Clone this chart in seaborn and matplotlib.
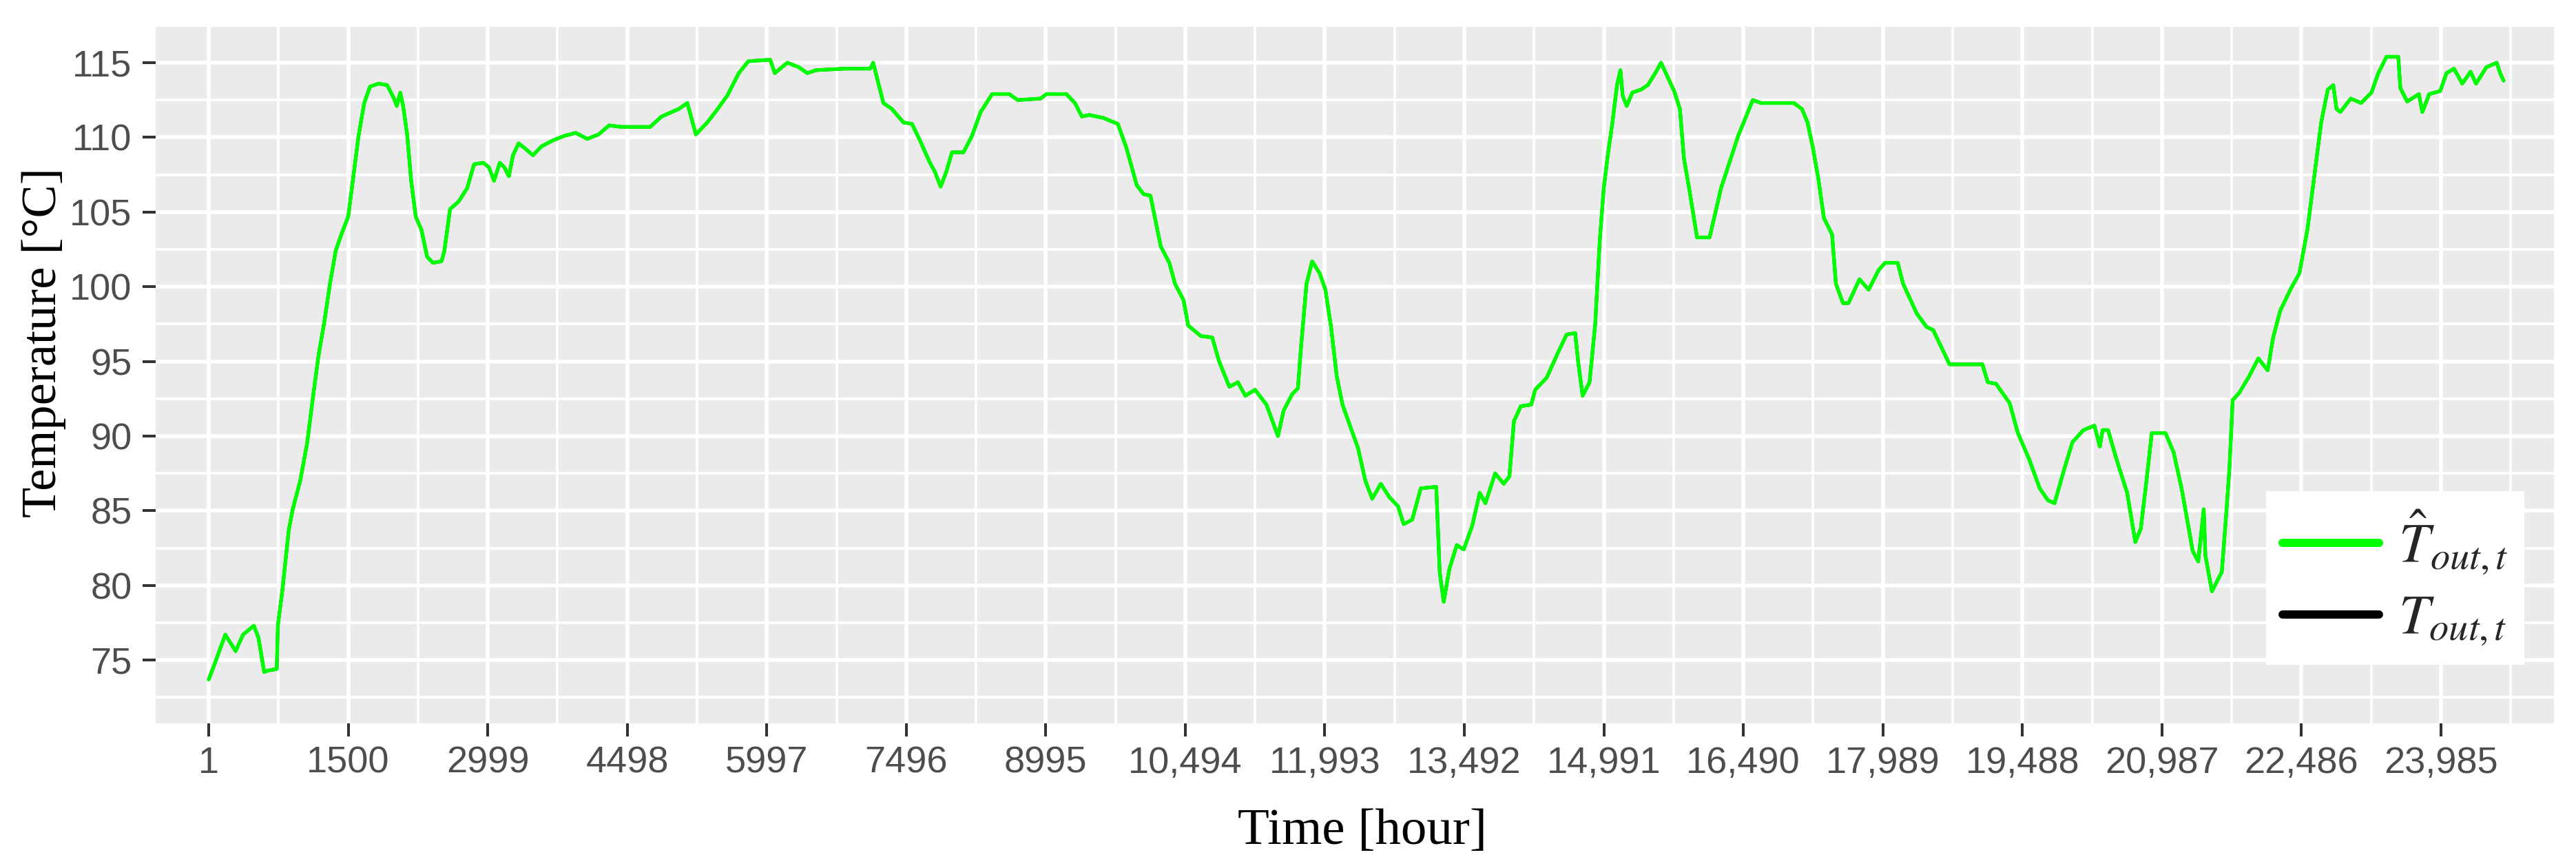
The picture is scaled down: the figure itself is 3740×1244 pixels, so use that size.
import matplotlib
matplotlib.use('Agg')
import matplotlib.pyplot as plt
import seaborn as sns
from matplotlib.ticker import FixedLocator

# hourly outlet temperature
hours = [1, 62, 179, 290, 370, 486, 535, 597, 640, 732, 744, 793, 861, 904, 984, 1058, 1119,
         1181, 1242, 1304, 1365, 1426, 1500, 1549, 1611, 1672, 1734, 1826, 1918, 1992, 2022,
         2059, 2090, 2133, 2176, 2225, 2287, 2348, 2410, 2502, 2533, 2594, 2686, 2778, 2852,
         2950, 3011, 3067, 3128, 3177, 3226, 3270, 3331, 3392, 3485, 3577, 3700, 3822, 3945,
         4068, 4191, 4302, 4437, 4744, 4867, 5051, 5143, 5235, 5358, 5469, 5573, 5696, 5800,
         6034, 6083, 6218, 6341, 6433, 6525, 6832, 7109, 7140,
         7250, 7342, 7465, 7557, 7650, 7742, 7803, 7865, 7926, 7987, 8110, 8202, 8295, 8418,
         8602, 8694, 8940, 9001, 9216, 9308, 9382, 9462, 9615, 9769, 9861, 9972, 10045, 10119,
         10168, 10230, 10322, 10383, 10475, 10525, 10660, 10783, 10857, 10967, 11059, 11139,
         11243, 11366, 11489, 11550, 11642, 11704, 11735, 11796, 11857, 11937, 11999, 12060,
         12121, 12183, 12257, 12349, 12429, 12502, 12594, 12687, 12779, 12840, 12932, 13024,
         13190, 13227, 13270, 13331, 13411, 13485, 13577, 13657, 13718, 13823, 13915, 13976,
         14025, 14099, 14210, 14253, 14376, 14499, 14591, 14683, 14714, 14763, 14837, 14898,
         14947, 14990, 15033, 15083, 15132, 15169, 15193, 15236, 15297, 15390, 15463, 15543,
         15605, 15746, 15808, 15851, 15912, 15992, 16127, 16250, 16434,
         16591, 16680, 17032, 17120, 17179, 17237, 17296, 17355, 17443, 17484, 17560, 17619,
         17737, 17836, 17942, 18012, 18148, 18206, 18265, 18353, 18459, 18529, 18705, 19058,
         19116, 19204, 19351, 19439, 19557, 19674, 19762, 19833, 19938, 20026, 20144, 20261,
         20320, 20350, 20408, 20496, 20613, 20701, 20760, 20819, 20878, 21025, 21113, 21201,
         21318, 21377, 21436, 21454, 21524, 21630, 21671, 21712, 21747, 21818, 21924, 22023,
         22123, 22182, 22258, 22375, 22464, 22552, 22640, 22698, 22769, 22828, 22863, 22904,
         23016, 23127, 23238, 23312, 23400, 23526, 23549, 23622, 23748, 23785, 23859, 23977,
         24044, 24125, 24214, 24303, 24362, 24473, 24584, 24621, 24658]

temp_pred = [73.7, 74.7, 76.7, 75.6, 76.7, 77.3, 76.5, 74.2, 74.3, 74.4, 77.3, 79.7, 83.7, 85.1,
             87.0, 89.5, 92.5, 95.4, 97.6, 100.2, 102.4, 103.5, 104.7, 107.1, 110.1, 112.3,
             113.4, 113.6, 113.5, 112.6, 112.1, 113.0, 112.1, 110.2, 107.1, 104.7, 103.8, 102.0,
             101.6, 101.7, 102.4, 105.2, 105.7, 106.6, 108.2, 108.3, 108.0, 107.1, 108.3, 108.0,
             107.4, 108.8, 109.6, 109.3, 108.8, 109.4, 109.8, 110.1, 110.3, 109.9, 110.2, 110.8,
             110.7, 110.7, 111.4, 111.9, 112.3, 110.2, 111.0, 111.9, 112.8, 114.3, 115.1, 115.2,
             114.3, 115.0, 114.7, 114.3, 114.5, 114.6, 114.6, 115.0,
             112.3, 111.9, 111.0, 110.9, 109.7, 108.4, 107.7, 106.7, 107.7, 109.0, 109.0, 110.1,
             111.7, 112.9, 112.9, 112.5, 112.6, 112.9, 112.9, 112.3, 111.4, 111.5, 111.3, 110.9,
             109.3, 106.8, 106.2, 106.1, 104.6, 102.7, 101.6, 100.2, 99.1, 97.4, 96.7, 96.6,
             95.0, 93.3, 93.6, 92.7, 93.1, 92.1, 90.0, 91.7, 92.8, 93.2, 95.8, 100.2, 101.7,
             100.9, 99.8, 97.3, 94.0, 92.1, 90.8, 89.2, 87.0, 85.8, 86.8, 85.9, 85.3, 84.1, 84.4,
             86.5, 86.6, 80.9, 78.9, 81.1, 82.7, 82.4, 84.0, 86.2, 85.5, 87.5, 86.8, 87.3, 91.0,
             92.0, 92.1, 93.1, 93.9, 95.6, 96.8, 96.9, 95.0, 92.7, 93.6, 97.5, 103.1, 106.6,
             108.8, 111.0, 113.5, 114.5, 112.8, 112.1, 113.0, 113.2, 113.5, 114.3, 115.0, 113.1,
             111.9, 108.6, 106.4, 103.3, 103.3, 106.6, 110.1,
             112.5, 112.3, 112.3, 111.9, 111.0, 109.3, 107.2, 104.6, 103.5, 100.2, 98.9, 98.9,
             100.5, 99.8, 101.1, 101.6, 101.6, 100.2, 99.4, 98.2, 97.3, 97.1, 94.8, 94.8, 93.6,
             93.5, 92.2, 90.2, 88.5, 86.5, 85.7, 85.5, 87.8, 89.6, 90.4, 90.7, 89.3, 90.4, 90.4,
             88.5, 86.2, 82.9, 83.8, 86.9, 90.2, 90.2, 88.9, 86.4, 82.3, 81.6, 85.1, 82.0, 79.6,
             80.9, 84.2, 87.8, 92.4, 92.9, 94.0, 95.2, 94.4, 96.6, 98.4, 99.9, 100.9, 103.9,
             108.2, 111.0, 113.2, 113.5, 111.9, 111.7, 112.6, 112.3, 113.0, 114.3, 115.4, 115.4,
             113.3, 112.4, 112.9, 111.7, 112.9, 113.1, 114.3, 114.6, 113.6, 114.4, 113.6, 114.7,
             115.0, 114.3, 113.8]

# the measured series sits under the prediction and is almost fully hidden
temp_actual = list(temp_pred)

x_ticks = [1, 1500, 2999, 4498, 5997, 7496, 8995, 10494, 11993, 13492, 14991, 16490,
           17989, 19488, 20987, 22486, 23985]
x_tick_labels = ['1', '1500', '2999', '4498', '5997', '7496', '8995', '10,494', '11,993',
                 '13,492', '14,991', '16,490', '17,989', '19,488', '20,987', '22,486', '23,985']
y_ticks = [75, 80, 85, 90, 95, 100, 105, 110, 115]

sns.set_theme(style='darkgrid')
plt.rcParams['font.family'] = ['Liberation Sans', 'DejaVu Sans']
plt.rcParams['mathtext.fontset'] = 'stix'

W, H = 3741, 1244
fig = plt.figure(figsize=(W / 100, H / 100), dpi=100)
ax = fig.add_axes([226 / W, 1 - 1050 / H, (3708 - 226) / W, (1050 - 39) / H])
ax.set_facecolor('#EBEBEB')

sns.lineplot(x=hours, y=temp_actual, color='black', lw=3.4, ax=ax, label=r'$T_{out,t}$')
sns.lineplot(x=hours, y=temp_pred, color='#00FF00', lw=3.8, ax=ax, label=r'$\hat{T}_{out,t}$')

ax.set_xlim(-569, 25199)
ax.set_ylim(70.76, 117.40)
ax.set_xticks(x_ticks)
ax.set_xticklabels(x_tick_labels)
ax.set_yticks(y_ticks)
x_minor = [x_ticks[0] - 749.5] + [(a + b) / 2 for a, b in zip(x_ticks[:-1], x_ticks[1:])] + [x_ticks[-1] + 749.5]
y_minor = [y_ticks[0] - 2.5] + [t + 2.5 for t in y_ticks]
ax.xaxis.set_minor_locator(FixedLocator(x_minor))
ax.yaxis.set_minor_locator(FixedLocator(y_minor))

ax.set_axisbelow(True)
ax.grid(which='major', color='white', lw=4)
ax.grid(which='minor', color='white', lw=2.6)
for s in ax.spines.values():
    s.set_visible(False)

ax.tick_params(axis='both', which='major', length=13.7, width=2.9, color='#333333',
               labelcolor='#4D4D4D', labelsize=39)
ax.tick_params(axis='x', which='major', pad=10, bottom=True)
ax.tick_params(axis='y', which='major', pad=11, left=True)
ax.tick_params(which='minor', length=0)
ax.set_xlabel('')
ax.set_ylabel('')

fig.text(64 / W, 1 - 497 / H, 'Temperature [°C]', rotation=90, ha='center', va='center',
         fontsize=52, family='Liberation Serif', color='black')
fig.text(1978 / W, 1 - 1225 / H, 'Time [hour]', ha='center', va='baseline',
         fontsize=54, family='Liberation Serif', color='black')

handles, labels = ax.get_legend_handles_labels()
leg = ax.legend([handles[1], handles[0]], [labels[1], labels[0]], loc='upper left',
                bbox_to_anchor=(3290 / W, 1 - 713 / H), bbox_transform=fig.transFigure,
                borderaxespad=0, fontsize=58, frameon=True, fancybox=False, framealpha=1,
                facecolor='white', edgecolor='none', handlelength=1.73, handletextpad=0.35,
                borderpad=0.3, labelspacing=0.3)
for line in leg.get_lines():
    line.set_linewidth(8.6)

fig.savefig('out.png', dpi=100)
